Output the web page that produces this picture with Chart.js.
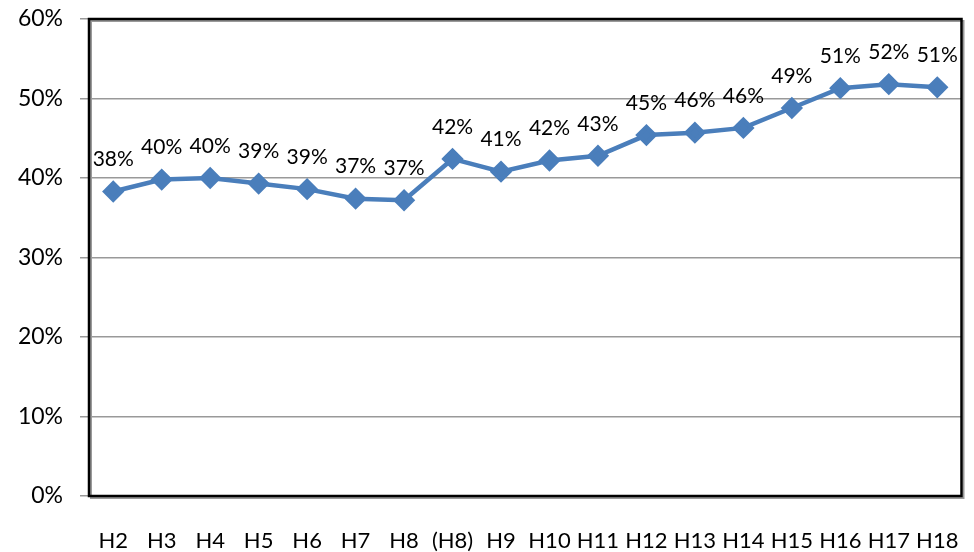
<!DOCTYPE html>
<html>
<head>
<meta charset="utf-8">
<script src="https://cdn.jsdelivr.net/npm/chart.js@4.4.0/dist/chart.umd.min.js"></script>
<style>
  html, body { margin: 0; padding: 0; background: #fff; }
  #wrap { width: 974px; height: 552px; }
</style>
</head>
<body>
<div id="wrap"><canvas id="grafica" width="974" height="552"></canvas></div>
<script>
// categorias y valores (%)
const categorias = ["H2", "H3", "H4", "H5", "H6", "H7", "H8", "(H8)", "H9", "H10", "H11", "H12", "H13", "H14", "H15", "H16", "H17", "H18"];
const valores = [38.3, 39.8, 40.0, 39.3, 38.6, 37.4, 37.2, 42.4, 40.8, 42.2, 42.8, 45.4, 45.7, 46.3, 48.8, 51.3, 51.8, 51.4];
const ticksY = [0, 10, 20, 30, 40, 50, 60];

const fuente = "Lato, 'Open Sans', sans-serif";

// etiquetas encima de cada punto
const etiquetas = {
  id: "etiquetas",
  afterDatasetsDraw(chart) {
    const ctx = chart.ctx;
    const meta = chart.getDatasetMeta(0);
    ctx.save();
    ctx.fillStyle = "#000";
    ctx.font = "21px " + fuente;
    ctx.textAlign = "center";
    ctx.textBaseline = "middle";
    meta.data.forEach((p, i) => {
      ctx.fillText(Math.round(valores[i]) + "%", p.x, p.y - 32);
    });
    ctx.restore();
  }
};

// marco negro con sombra gris
const marco = {
  id: "marco",
  beforeDatasetsDraw(chart) {
    const a = chart.chartArea;
    const ctx = chart.ctx;
    ctx.save();
    ctx.strokeStyle = "#9a9a9a";
    ctx.lineWidth = 2;
    ctx.strokeRect(a.left + 2, a.top + 2, a.right - a.left, a.bottom - a.top);
    ctx.strokeStyle = "#000";
    ctx.lineWidth = 2.5;
    ctx.strokeRect(a.left, a.top, a.right - a.left, a.bottom - a.top);
    ctx.restore();
  }
};

new Chart(document.getElementById("grafica").getContext("2d"), {
  type: "line",
  data: {
    labels: categorias,
    datasets: [{
      data: valores,
      borderColor: "#4a7ebb",
      backgroundColor: "#4a7ebb",
      borderWidth: 4.5,
      pointStyle: "rectRot",
      pointRadius: 8,
      pointHoverRadius: 8,
      tension: 0
    }]
  },
  options: {
    responsive: false,
    animation: false,
    layout: { padding: { left: 0, right: 12, top: 19, bottom: 0 } },
    plugins: { legend: { display: false }, tooltip: { enabled: false } },
    scales: {
      x: {
        offset: true,
        grid: { display: false, drawTicks: false },
        border: { display: false },
        ticks: { color: "#000", font: { family: fuente, size: 22 }, padding: 32, maxRotation: 0, autoSkip: false },
        afterFit(s) { s.height = 56; s.paddingLeft = 0; s.paddingRight = 0; }
      },
      y: {
        min: 0,
        max: 60,
        afterBuildTicks(s) { s.ticks = ticksY.map(v => ({ value: v })); },
        grid: { color: "#999", lineWidth: 1.5, tickLength: 9, drawTicks: true },
        border: { display: false },
        ticks: { color: "#000", font: { family: fuente, size: 23 }, padding: 17, callback: v => v + "%" },
        afterFit(s) { s.width = 89; s.paddingTop = 0; s.paddingBottom = 0; }
      }
    }
  },
  plugins: [marco, etiquetas]
});
</script>
</body>
</html>
